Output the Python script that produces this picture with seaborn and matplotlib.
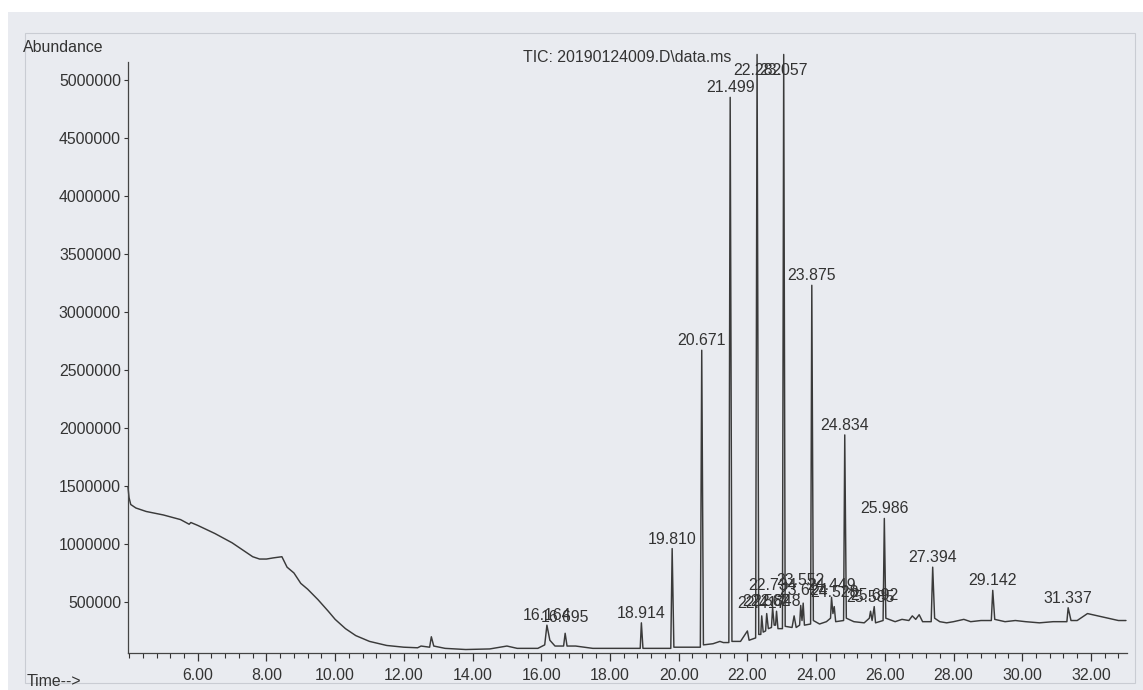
import numpy as np
import pandas as pd
import seaborn as sns
import matplotlib.pyplot as plt
from matplotlib.ticker import MultipleLocator, FixedLocator, FuncFormatter
from matplotlib.patches import Rectangle

# TIC trace (time in min, abundance)
time_min = [3.97, 4.00, 4.05, 4.20, 4.50, 5.00, 5.50, 5.75, 5.80, 6.00, 6.50, 7.00, 7.30, 7.60,
            7.80, 8.00, 8.20, 8.45, 8.50, 8.60, 8.80, 9.00, 9.20, 9.50, 9.80, 10.00, 10.30, 10.60,
            11.00, 11.50, 12.00, 12.40, 12.50, 12.75, 12.80, 12.87, 13.20, 13.80, 14.50, 15.00,
            15.30, 15.90, 16.10, 16.164, 16.25, 16.40, 16.65, 16.695, 16.75, 17.00, 17.50, 18.00,
            18.88, 18.914, 18.96, 19.77, 19.81, 19.86, 20.63, 20.671, 20.72, 21.00, 21.20, 21.30,
            21.46, 21.499, 21.55, 21.80, 22.00, 22.05, 22.24, 22.282, 22.33, 22.39, 22.417, 22.46,
            22.53, 22.562, 22.61, 22.70, 22.734, 22.78, 22.82, 22.848, 22.89, 23.02, 23.057, 23.10,
            23.30, 23.36, 23.42, 23.52, 23.552, 23.59, 23.624, 23.66, 23.84, 23.875, 23.92, 24.10,
            24.30, 24.42, 24.449, 24.49, 24.528, 24.57, 24.80, 24.834, 24.88, 25.10, 25.40, 25.55,
            25.585, 25.63, 25.692, 25.73, 25.95, 25.986, 26.03, 26.30, 26.50, 26.70, 26.80, 26.90,
            27.00, 27.10, 27.35, 27.394, 27.45, 27.60, 27.80, 28.00, 28.30, 28.50, 28.80, 29.10,
            29.142, 29.20, 29.50, 29.80, 30.10, 30.50, 30.90, 31.30, 31.337, 31.42, 31.60, 31.90,
            32.20, 32.50, 32.80, 33.02]
abundance = [1490000, 1400000, 1340000, 1310000, 1280000, 1250000, 1210000, 1170000, 1185000,
             1160000, 1090000, 1010000, 950000, 890000, 870000, 870000, 880000, 890000, 860000,
             800000, 750000, 660000, 610000, 520000, 420000, 350000, 270000, 210000, 160000,
             125000, 110000, 105000, 120000, 110000, 200000, 120000, 100000, 90000, 95000, 120000,
             100000, 100000, 130000, 300000, 170000, 120000, 120000, 230000, 120000, 120000, 100000,
             100000, 100000, 320000, 100000, 100000, 960000, 110000, 110000, 2670000, 130000, 140000,
             160000, 150000, 150000, 4850000, 160000, 160000, 250000, 170000, 190000, 5220000,
             220000, 220000, 380000, 240000, 250000, 400000, 270000, 280000, 450000, 300000, 300000,
             420000, 270000, 270000, 5220000, 290000, 280000, 380000, 280000, 300000, 470000, 340000,
             490000, 300000, 310000, 3230000, 340000, 310000, 330000, 360000, 540000, 400000, 460000,
             330000, 340000, 1940000, 360000, 330000, 320000, 360000, 420000, 340000, 460000, 320000,
             340000, 1220000, 360000, 330000, 350000, 340000, 380000, 350000, 390000, 330000, 330000,
             800000, 360000, 330000, 320000, 330000, 350000, 330000, 340000, 340000, 600000, 350000,
             330000, 340000, 330000, 320000, 330000, 330000, 450000, 340000, 340000, 400000, 380000,
             360000, 340000, 340000]

# labelled peaks (label anchor heights)
peak_rt = [16.164, 16.695, 18.914, 19.810, 20.671, 21.499, 22.282, 23.057, 23.875, 24.834,
           25.986, 27.394, 29.142, 31.337, 22.417, 22.562, 22.734, 22.848, 23.552, 23.624,
           24.449, 24.528, 25.585, 25.692]
peak_top = [300000, 280000, 320000, 960000, 2670000, 4850000, 5220000, 5220000, 3230000, 1940000,
            1220000, 800000, 600000, 450000, 400000, 420000, 560000, 420000, 600000, 520000,
            560000, 500000, 460000, 470000]
peak_text = ["16.164", "16.695", "18.914", "19.810", "20.671", "21.499", "22.282", "23.057",
             "23.875", "24.834", "25.986", "27.394", "29.142", "31.337", "22.417", "22.562",
             "22.734", "22.848", "23.552", "23.624", "24.449", "24.528", "25.585", "25.692"]

y_ticks = [500000, 1000000, 1500000, 2000000, 2500000, 3000000, 3500000, 4000000, 4500000, 5000000]

df = pd.DataFrame({"t": time_min, "a": abundance})

sns.set_theme(style="white")
plt.rcParams['font.family'] = ['Liberation Sans', 'DejaVu Sans']
ink = "#333333"
paper = "#e9ebf0"
fs = 11.4

fig = plt.figure(figsize=(11.43, 6.90), dpi=100)
fig.patch.set_facecolor("white")
fig.patches.append(Rectangle((8 / 1143, 0), 1 - 8 / 1143, 1 - 12 / 690, transform=fig.transFigure,
                             facecolor=paper, edgecolor="none", zorder=-10))
fig.patches.append(Rectangle((25 / 1143, 1 - 683 / 690), 1110 / 1143, 650 / 690, transform=fig.transFigure,
                             facecolor="none", edgecolor="#c9ccd3", lw=0.8, zorder=-9))

ax = fig.add_axes([128 / 1143, 1 - 653 / 690, 999 / 1143, 591 / 690])
ax.set_facecolor("none")
sns.lineplot(data=df, x="t", y="a", ax=ax, sort=False, estimator=None, color="#3a3a3a", lw=1.05)
ax.lines[0].set_clip_on(False)

ax.set_xlim(3.97, 33.05)
ax.set_ylim(60000, 5155000)
ax.set_xlabel("")
ax.set_ylabel("")

ax.xaxis.set_major_locator(FixedLocator(np.arange(6, 34, 2)))
ax.xaxis.set_minor_locator(MultipleLocator(0.4))
ax.xaxis.set_major_formatter(FuncFormatter(lambda v, p: f"{v:.2f}"))
ax.yaxis.set_major_locator(FixedLocator(y_ticks))
ax.yaxis.set_major_formatter(FuncFormatter(lambda v, p: f"{int(v)}"))

ax.tick_params(axis="x", which="major", direction="out", length=6, width=0.9, color=ink,
               labelsize=fs, labelcolor=ink, pad=5, bottom=True)
ax.tick_params(axis="x", which="minor", direction="out", length=3.5, width=0.8, color=ink, bottom=True)
ax.tick_params(axis="y", which="major", direction="out", length=3, width=0.8, color=ink,
               labelsize=fs, labelcolor=ink, pad=2, left=True)

for side in ["top", "right"]:
    ax.spines[side].set_visible(False)
for side in ["left", "bottom"]:
    ax.spines[side].set_color("#444444")
    ax.spines[side].set_linewidth(0.9)

# labels of the two off-scale peaks stay inside the frame, as on the printout
label_cap = 5000000
for rt, top, txt in zip(peak_rt, peak_top, peak_text):
    ax.annotate(txt, (rt, min(top, label_cap)), xytext=(0, 1.5), textcoords="offset points",
                ha="center", va="bottom", fontsize=fs, color=ink, annotation_clip=False)

fig.text(627 / 1143, 1 - 58 / 690, "TIC: 20190124009.D\\data.ms", ha="center", va="center",
         fontsize=fs, color=ink)
fig.text(23 / 1143, 1 - 48 / 690, "Abundance", ha="left", va="center", fontsize=fs, color=ink)
fig.text(27 / 1143, 1 - 682 / 690, "Time-->", ha="left", va="center", fontsize=fs, color=ink)

fig.savefig("out.png", dpi=100, facecolor=fig.get_facecolor())
